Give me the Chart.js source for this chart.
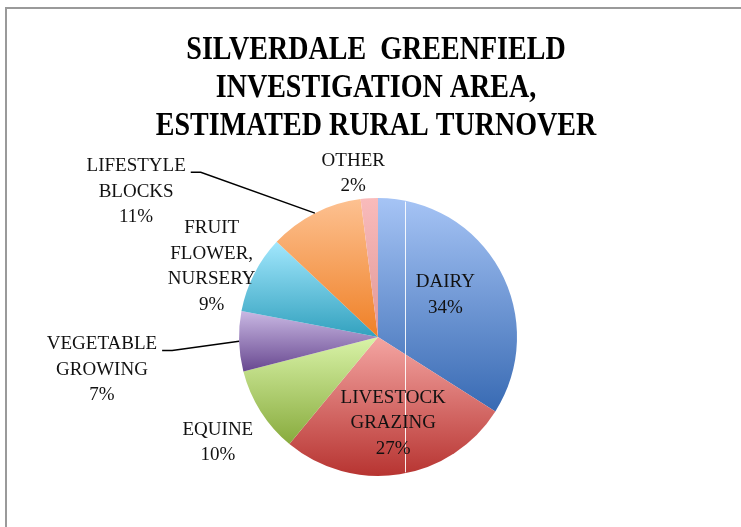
<!DOCTYPE html>
<html>
<head>
<meta charset="utf-8">
<script src="https://cdn.jsdelivr.net/npm/chart.js@4.4.0/dist/chart.umd.min.js"></script>
<style>
  html, body { margin: 0; padding: 0; background: #fff; }
  #wrap { width: 741px; height: 527px; position: relative; }
</style>
</head>
<body>
<div id="wrap"><canvas id="turnoverChart" width="741" height="527"></canvas></div>
<script>
// Chart data
const titleLines = ['SILVERDALE  GREENFIELD', 'INVESTIGATION AREA,', 'ESTIMATED RURAL TURNOVER'];
const categories = ['DAIRY', 'LIVESTOCK GRAZING', 'EQUINE', 'VEGETABLE GROWING', 'FRUIT FLOWER, NURSERY', 'LIFESTYLE BLOCKS', 'OTHER'];
const labelLines = [['DAIRY'], ['LIVESTOCK', 'GRAZING'], ['EQUINE'], ['VEGETABLE', 'GROWING'], ['FRUIT', 'FLOWER,', 'NURSERY'], ['LIFESTYLE', 'BLOCKS'], ['OTHER']];
const shares = [34, 27, 10, 7, 9, 11, 2];

// Slice colours: light top, dark bottom
const topColors = ['#a6c4f5', '#f4a5a2', '#d9f3a8', '#c9b8e3', '#a2e7fd', '#fdc191', '#f9bbbb'];
const bottomColors = ['#386ab3', '#b73431', '#88ab3d', '#684890', '#32a1be', '#ef8026', '#e09898'];

// Label placement: [angle shift in degrees, distance as fraction of radius, leader line]
const labelPlace = [[-3, 0.57, false], [-1, 0.63, false], [-1, 1.38, false], [-5, 2.0, true],
                    [-4, 1.30, false], [-32, 2.03, true], [-5, 1.19, false]];

const total = shares.reduce((a, b) => a + b, 0);

function sliceGradient(context) {
    const chart = context.chart;
    const area = chart.chartArea;
    const i = context.dataIndex;
    if (!area || i === undefined) return topColors[i || 0];
    const cx = (area.left + area.right) / 2;
    const cy = (area.top + area.bottom) / 2;
    const r = Math.min(area.width, area.height) / 2;
    let before = 0;
    for (let k = 0; k < i; k++) before += shares[k];
    const a0 = -Math.PI / 2 + 2 * Math.PI * before / total;
    const a1 = a0 + 2 * Math.PI * shares[i] / total;
    const ys = [cy, cy + r * Math.sin(a0), cy + r * Math.sin(a1)];
    if (a0 <= Math.PI / 2 && a1 >= Math.PI / 2) ys.push(cy + r);
    if (a1 >= 1.5 * Math.PI) ys.push(cy - r);
    const g = chart.ctx.createLinearGradient(0, Math.min(...ys), 0, Math.max(...ys));
    g.addColorStop(0, topColors[i]);
    g.addColorStop(1, bottomColors[i]);
    return g;
}

// frame and title
const framePlugin = {
    id: 'frame',
    beforeDraw(chart) {
        const ctx = chart.ctx;
        ctx.save();
        ctx.strokeStyle = '#9a9a9a';
        ctx.lineWidth = 2;
        ctx.beginPath();
        ctx.moveTo(6, 527);
        ctx.lineTo(6, 8);
        ctx.lineTo(741, 8);
        ctx.stroke();

        ctx.fillStyle = '#000';
        ctx.font = 'bold 33px "Liberation Serif", serif';
        ctx.textAlign = 'center';
        ctx.textBaseline = 'middle';
        titleLines.forEach((t, j) => {
            ctx.save();
            ctx.translate(376, 50 + j * 38);
            ctx.scale(0.85, 1);
            ctx.fillText(t, 0, 0);
            ctx.restore();
        });
        ctx.restore();
    }
};

const sliceLabels = {
    id: 'sliceLabels',
    afterDatasetsDraw(chart) {
        const ctx = chart.ctx;
        const arcs = chart.getDatasetMeta(0).data;
        ctx.save();
        // thin white seam seen in the original
        const a0 = arcs[0];
        const seamX = a0.x + 27;
        const h = Math.sqrt(a0.outerRadius * a0.outerRadius - 27 * 27);
        ctx.strokeStyle = 'rgba(255,255,255,0.9)';
        ctx.lineWidth = 1;
        ctx.beginPath();
        ctx.moveTo(Math.round(seamX) + 0.5, a0.y - h + 1);
        ctx.lineTo(Math.round(seamX) + 0.5, a0.y + h - 1);
        ctx.stroke();

        ctx.font = '19px "Liberation Serif", serif';
        ctx.fillStyle = '#111';
        ctx.textAlign = 'center';
        ctx.textBaseline = 'middle';
        const lh = 25.5;
        arcs.forEach((arc, i) => {
            const [shift, dist, leader] = labelPlace[i];
            const mid = (arc.startAngle + arc.endAngle) / 2;
            const ang = mid + shift * Math.PI / 180;
            const px = arc.x + Math.cos(ang) * arc.outerRadius * dist;
            const py = arc.y + Math.sin(ang) * arc.outerRadius * dist;
            const lines = labelLines[i].concat([shares[i] + '%']);
            const y0 = py - (lines.length - 1) * lh / 2;
            lines.forEach((t, j) => ctx.fillText(t, px, y0 + j * lh));
            if (leader) {
                const w = ctx.measureText(lines[0]).width;
                const sx = px + w / 2 + 5;
                const sy = y0 + 6;
                const ex = arc.x + Math.cos(mid) * arc.outerRadius;
                const ey = arc.y + Math.sin(mid) * arc.outerRadius;
                ctx.strokeStyle = '#000';
                ctx.lineWidth = 1.5;
                ctx.beginPath();
                ctx.moveTo(sx, sy);
                ctx.lineTo(sx + 10, sy);
                ctx.lineTo(ex, ey);
                ctx.stroke();
            }
        });
        ctx.restore();
    }
};

new Chart(document.getElementById('turnoverChart').getContext('2d'), {
    type: 'pie',
    data: {
        labels: categories,
        datasets: [{
            data: shares,
            backgroundColor: sliceGradient,
            borderWidth: 0,
            hoverOffset: 0
        }]
    },
    options: {
        responsive: false,
        animation: false,
        layout: {
            padding: { left: 239, right: 224, top: 198, bottom: 51 }
        },
        plugins: {
            legend: { display: false },
            tooltip: { enabled: false },
            title: { display: false }
        }
    },
    plugins: [framePlugin, sliceLabels]
});
</script>
</body>
</html>
